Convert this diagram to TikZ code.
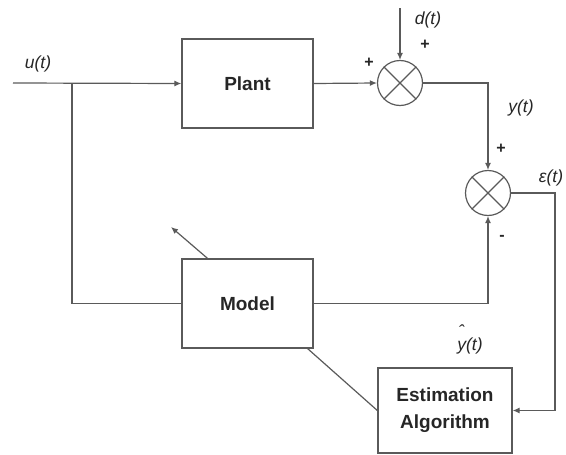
\documentclass[tikz,border=0pt]{standalone}
\usepackage{fontspec}
\setmainfont{Liberation Sans}
\usetikzlibrary{arrows.meta}
\definecolor{lc}{HTML}{5A5A5A}
\definecolor{tc}{HTML}{262626}
\begin{document}
\begin{tikzpicture}[x=1pt,y=-1pt,
  conn/.style={draw=lc, line width=1.2pt},
  arr/.style={conn, -{Latex[length=7pt,width=6pt]}},
  blk/.style={draw=lc, line width=1.3pt, rectangle, inner sep=0pt,
    minimum width=131pt, minimum height=89pt, align=center,
    font=\fontsize{19}{27}\selectfont\bfseries, text=tc},
  sumc/.style={draw=lc, line width=1.2pt, circle, inner sep=0pt, minimum size=45pt},
  lbl/.style={font=\fontsize{17.5}{19}\selectfont\itshape, text=tc, inner sep=0pt},
  sgn/.style={font=\fontsize{16}{17}\selectfont\bfseries, text=tc, inner sep=0pt}]
\useasboundingbox (0,0) rectangle (566,455);
% blocks
\node[blk] (plant) at (247.5,83.5) {Plant};
\node[blk] (model) at (247.5,303.5) {Model};
\node[blk, minimum width=134pt, minimum height=85pt] (est) at (445,410.5) {Estimation\\Algorithm};
% summing junctions
\node[sumc] (s1) at (400,83) {};
\node[sumc] (s2) at (488,193) {};
\foreach \s in {s1,s2}{
  \draw[conn] (\s.north west) -- (\s.south east);
  \draw[conn] (\s.north east) -- (\s.south west);
}
% coordinates
\coordinate (in) at (13,83);
\coordinate (br) at (72,83);
\coordinate (dtop) at (400,8);
\coordinate (ecorner) at (555,193);
\coordinate (adj) at (171,227);
% connectors
\draw[arr] (in) -- (plant.west);
\draw[conn] (br) |- (model.west);
\draw[arr] (plant.east) -- (s1.west);
\draw[arr] (dtop) -- (s1.north);
\draw[arr] (s1.east) -| (s2.north);
\draw[arr] (model.east) -| (s2.south);
\draw[arr] (s2.east) -- (ecorner) |- (est.east);
\draw[arr] ([xshift=-40pt]model.north) -- (adj);
\draw[conn] ([xshift=-6pt]model.south east) -- (est.west);
% labels
\node[lbl] (lu) at (38,64) {u(t)};
\node[lbl] (ld) at (428,20) {d(t)};
\node[sgn] (p1) at (425,45) {+};
\node[sgn] (p2) at (369,63) {+};
\node[lbl] (ly) at (521,108) {y(t)};
\node[sgn] (p3) at (501,149) {+};
\node[lbl] (le) at (551,178) {ε(t)};
\node[sgn] (m1) at (502,238) {-};
\node[lbl] (lyh) at (470,339) {\makebox[0pt][l]{\raisebox{13pt}{\kern1pt ˆ}}y(t)};
\end{tikzpicture}
\end{document}
